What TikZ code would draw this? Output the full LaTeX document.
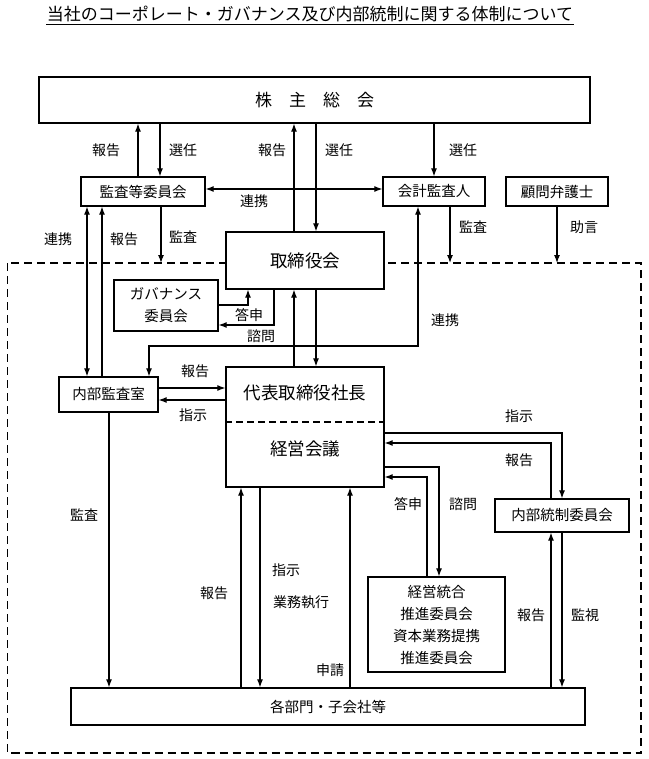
\documentclass[tikz,border=0pt]{standalone}
\usepackage{fontspec}
\setmainfont{Noto Sans CJK JP}
\usetikzlibrary{arrows.meta}

\tikzset{every picture/.style={line width=1.1pt}}
\tikzset{
	box/.style={draw, fill=white, line width=1.3pt, inner sep=0pt, align=center, font=\fontsize{14.5}{22}\selectfont},
	bigbox/.style={box, font=\fontsize{17.5}{20}\selectfont},
	lbl/.style={inner sep=0pt, font=\fontsize{14}{16}\selectfont},
	arr/.style={-{Latex[length=8pt,width=6pt]}},
	biarr/.style={{Latex[length=8pt,width=6pt]}-{Latex[length=8pt,width=6pt]}}
}

\begin{document}
\begin{tikzpicture}[x=1pt,y=1pt,yscale=-1,xscale=1]
	\useasboundingbox (0,0) rectangle (648,759);
	
	% Title
	\node (title) [inner sep=0pt, font=\fontsize{17}{19}\selectfont] at (310,14) {当社のコーポレート・ガバナンス及び内部統制に関する体制について};
	\draw [line width=0.9pt] (title.west |- 0,24) -- (title.east |- 0,24);
	
	% Outer dashed frame
	\draw [line width=1.8pt, dash pattern=on 8pt off 5pt] (7.5,263) rectangle (641,753);
	
	% Boxes
	\node (sokai) [box, font=\fontsize{17}{20}\selectfont, minimum width=551pt, minimum height=46pt] at (314.5,100) {株　主　総　会};
	\node (kansa) [box, minimum width=124pt, minimum height=29pt] at (143,191.5) {監査等委員会};
	\node (kaikei) [box, minimum width=102pt, minimum height=29pt] at (434,191.5) {会計監査人};
	\node (komon) [box, minimum width=102pt, minimum height=29pt] at (557,191.5) {顧問弁護士};
	\node (torishimari) [bigbox, minimum width=158pt, minimum height=57pt] at (305,260.5) {取締役会};
	\node (gov) [box, minimum width=104pt, minimum height=51pt] at (166,305.5) {ガバナンス\\委員会};
	\node (naibu) [box, minimum width=99pt, minimum height=35pt] at (108.5,394.5) {内部監査室};
	\node (exec) [box, minimum width=158pt, minimum height=120pt] at (305,427) {};
	\node (shacho) [inner sep=0pt, font=\fontsize{17.5}{20}\selectfont] at (305,393) {代表取締役社長};
	\node (kaigi) [inner sep=0pt, font=\fontsize{17.5}{20}\selectfont] at (305,449) {経営会議};
	\draw [line width=1.3pt, dash pattern=on 7pt off 4pt] (exec.west |- 0,422) -- (exec.east |- 0,422);
	\node (tosei) [box, minimum width=134pt, minimum height=33pt] at (562,515.5) {内部統制委員会};
	\node (togo) [box, minimum width=137pt, minimum height=95pt] at (436.5,624.5) {経営統合\\推進委員会\\資本業務提携\\推進委員会};
	\node (kakubu) [box, minimum width=514pt, minimum height=37pt] at (328,706.5) {各部門・子会社等};
	
	% Free ends on the dashed frame
	\coordinate (kansaEnd) at (161,263);
	\coordinate (kaikeiEnd) at (450,263);
	\coordinate (komonEnd) at (557,263);
	
	% Shareholders meeting
	\draw [arr] (kansa.north -| 138,0) -- (sokai.south -| 138,0);
	\draw [arr] (sokai.south -| 160,0) -- (kansa.north -| 160,0);
	\draw [arr] (torishimari.north -| 294,0) -- (sokai.south -| 294,0);
	\draw [arr] (sokai.south -| 316,0) -- (torishimari.north -| 316,0);
	\draw [arr] (sokai.south -| 434,0) -- (kaikei.north -| 434,0);
	\draw [biarr] (kansa.east |- 0,189) -- (kaikei.west |- 0,189);
	
	% Audit and advice into the frame
	\draw [arr] (kansa.south -| kansaEnd) -- (kansaEnd);
	\draw [arr] (kaikei.south -| kaikeiEnd) -- (kaikeiEnd);
	\draw [arr] (komon.south -| komonEnd) -- (komonEnd);
	
	% Internal audit office
	\draw [biarr] (kansa.south -| 87,0) -- (naibu.north -| 87,0);
	\draw [arr] (naibu.north -| 102,0) -- (kansa.south -| 102,0);
	\draw [biarr] (kaikei.south -| 418,0) -- (418,346) -- (149,346) -- (naibu.north -| 149,0);
	
	% Governance committee
	\draw [arr] (gov.east |- 0,305) -- (248,305) -- (torishimari.south -| 248,0);
	\draw [arr] (torishimari.south -| 274,0) -- (274,325) -- (gov.east |- 0,325);
	
	% Board and president
	\draw [arr] (exec.north -| 294,0) -- (torishimari.south -| 294,0);
	\draw [arr] (torishimari.south -| 316,0) -- (exec.north -| 316,0);
	\draw [arr] (naibu.east |- 0,388) -- (exec.west |- 0,388);
	\draw [arr] (exec.west |- 0,400) -- (naibu.east |- 0,400);
	
	% Internal control committee
	\draw [arr] (exec.east |- 0,433) -- (562,433) -- (tosei.north -| 562,0);
	\draw [arr] (tosei.north -| 551,0) -- (551,443) -- (exec.east |- 0,443);
	
	% Integration committee
	\draw [arr] (exec.east |- 0,467) -- (439,467) -- (togo.north -| 439,0);
	\draw [arr] (togo.north -| 427,0) -- (427,477) -- (exec.east |- 0,477);
	
	% Departments
	\draw [arr] (naibu.south -| 109,0) -- (kakubu.north -| 109,0);
	\draw [arr] (kakubu.north -| 241,0) -- (exec.south -| 241,0);
	\draw [arr] (exec.south -| 260,0) -- (kakubu.north -| 260,0);
	\draw [arr] (kakubu.north -| 350,0) -- (exec.south -| 350,0);
	\draw [arr] (kakubu.north -| 551,0) -- (tosei.south -| 551,0);
	\draw [arr] (tosei.south -| 562,0) -- (kakubu.north -| 562,0);
	
	% Text Node
	\node (l1) [lbl] at (106,150) {報告};
	\node (l2) [lbl] at (183,150) {選任};
	\node (l3) [lbl] at (272,150) {報告};
	\node (l4) [lbl] at (339,150) {選任};
	\node (l5) [lbl] at (463,150) {選任};
	\node (l6) [lbl] at (254,201) {連携};
	\node (l7) [lbl] at (58,239) {連携};
	\node (l8) [lbl] at (124,239) {報告};
	\node (l9) [lbl] at (183,237) {監査};
	\node (l10) [lbl] at (473,227) {監査};
	\node (l11) [lbl] at (584,227) {助言};
	\node (l12) [lbl] at (249,315) {答申};
	\node (l13) [lbl] at (261,336) {諮問};
	\node (l14) [lbl] at (445,320) {連携};
	\node (l15) [lbl] at (195,371) {報告};
	\node (l16) [lbl] at (193,415) {指示};
	\node (l17) [lbl] at (519,416) {指示};
	\node (l18) [lbl] at (519,460) {報告};
	\node (l19) [lbl] at (408,504) {答申};
	\node (l20) [lbl] at (463,504) {諮問};
	\node (l21) [lbl] at (84,515) {監査};
	\node (l22) [lbl] at (214,593) {報告};
	\node (l23) [lbl] at (286,570) {指示};
	\node (l24) [lbl] at (301,602) {業務執行};
	\node (l25) [lbl] at (330,670) {申請};
	\node (l26) [lbl] at (531,615) {報告};
	\node (l27) [lbl] at (585,615) {監視};
	
\end{tikzpicture}
\end{document}
